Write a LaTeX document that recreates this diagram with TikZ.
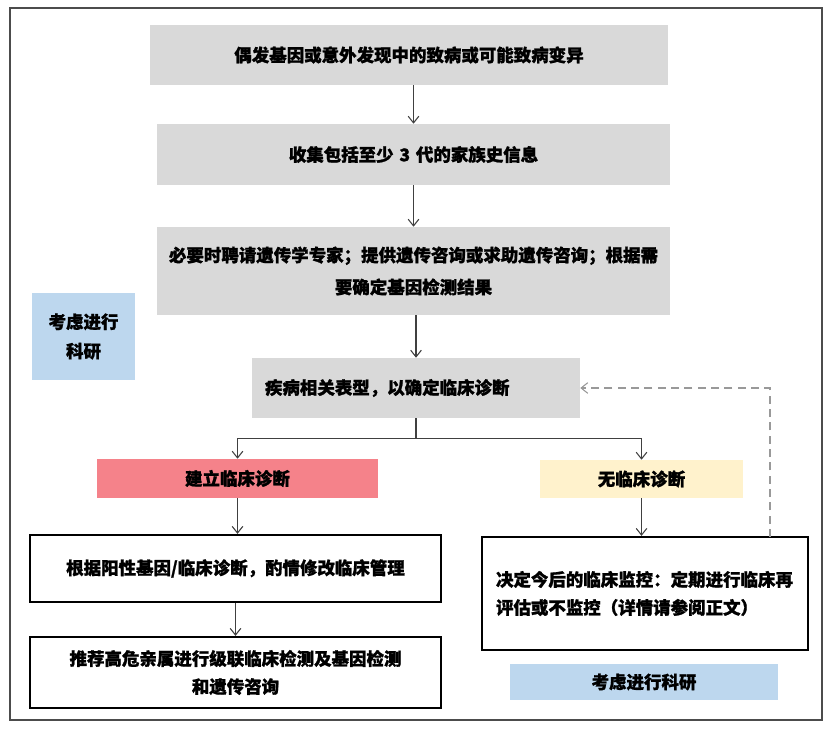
\documentclass[tikz,border=0pt]{standalone}
\usepackage{fontspec}
\setmainfont{Noto Sans CJK SC}[BoldFeatures={FakeBold=1.2}]
\usetikzlibrary{calc,arrows.meta}
\definecolor{boxgray}{RGB}{217,217,217}
\definecolor{diagpink}{RGB}{245,130,138}
\definecolor{nodiagcream}{RGB}{255,242,204}
\definecolor{researchblue}{RGB}{189,215,238}
\begin{document}
\begin{tikzpicture}[x=0.75pt,y=-0.75pt,
	font=\fontsize{13.1}{24}\selectfont\bfseries,
	graybox/.style={fill=boxgray, inner sep=0pt, align=center},
	colbox/.style={inner sep=0pt, align=center},
	blackbox/.style={draw=black, line width=1.7pt, inner sep=0pt, align=center},
	flow/.style={-{Straight Barb[length=5pt,width=8pt]}, black!75, thick}]
	\useasboundingbox (0,0) rectangle (830,729);
	\draw [black!70, line width=1.6pt] (10,8) rectangle (822,720);
	\node [graybox, text width=388.5pt, minimum height=45pt] (b1) at (409,55) {偶发基因或意外发现中的致病或可能致病变异};
	\node [graybox, text width=384.75pt, minimum height=45.75pt] (b2) at (413.5,154.5) {收集包括至少 3 代的家族史信息};
	\node [graybox, text width=384.75pt, minimum height=66pt] (b3) at (413.5,271) {必要时聘请遗传学专家；提供遗传咨询或求助遗传咨询；根据需\\要确定基因检测结果};
	\node [graybox, text width=226.5pt, inner xsep=9.75pt, minimum height=45pt, align=left] (b4) at (416,388) {疾病相关表型，以确定临床诊断};
	\node [colbox, fill=diagpink, text width=210.75pt, minimum height=29.25pt] (yes) at (237.5,478.5) {建立临床诊断};
	\node [colbox, fill=nodiagcream, text width=152.25pt, minimum height=28.5pt] (no) at (641.5,479) {无临床诊断};
	\node [blackbox, text width=308.25pt, minimum height=50.25pt] (manage) at (235.5,568.5) {根据阳性基因/临床诊断，酌情修改临床管理};
	\node [blackbox, text width=308.25pt, minimum height=53.25pt, font=\fontsize{13.1}{21}\selectfont\bfseries] (relatives) at (235.5,672.5) {推荐高危亲属进行级联临床检测及基因检测\\和遗传咨询};
	\node [blackbox, text width=223.5pt, inner xsep=10.5pt, minimum height=84.75pt, align=left, font=\fontsize{13.1}{21}\selectfont\bfseries] (monitor) at (645,593.5) {决定今后的临床监控：定期进行临床再\\评估或不监控（详情请参阅正文）};
	\node [colbox, fill=researchblue, text width=201pt, minimum height=27pt] (res2) at (644,682) {考虑进行科研};
	\node [colbox, fill=researchblue, text width=77.25pt, minimum height=65.25pt, font=\fontsize{13.1}{22}\selectfont\bfseries] (res1) at (83.5,336.5) {考虑进行\\科研};
	\draw [flow] (b2.north |- b1.south) -- (b2.north);
	\draw [flow] (b2.south) -- (b3.north);
	\draw [flow] (b4.north |- b3.south) -- (b4.north);
	\coordinate (split) at ($(b4.south)+(0,20)$);
	\draw [black!75, thick] (b4.south) -- (split);
	\draw [flow] (split) -| (yes.north);
	\draw [flow] (split) -| (no.north);
	\draw [flow] (yes.south) -- (yes.south |- manage.north);
	\draw [flow] (manage.south) -- (relatives.north);
	\draw [flow] (no.south) -- (no.south |- monitor.north);
	\coordinate (loop) at (770,537);
	\draw [-{Straight Barb[length=5pt,width=8pt]}, black!40, thick, dash pattern=on 6pt off 4pt] (loop) |- (b4.east);
\end{tikzpicture}
\end{document}
